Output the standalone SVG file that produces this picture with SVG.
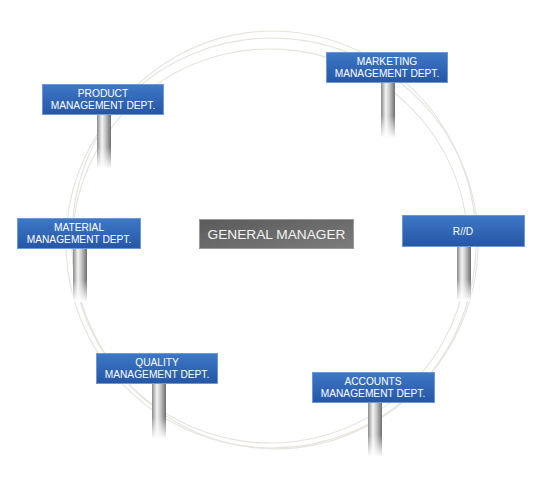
<svg xmlns="http://www.w3.org/2000/svg" width="540" height="500" viewBox="0 0 540 500">
<defs>
<linearGradient id="blue" x1="0" y1="0" x2="0" y2="1">
<stop offset="0" stop-color="#3d78c6"/>
<stop offset="1" stop-color="#2656a6"/>
</linearGradient>
<linearGradient id="gray" x1="0" y1="0" x2="1" y2="1">
<stop offset="0" stop-color="#5a5a5a"/>
<stop offset="1" stop-color="#7c7c7c"/>
</linearGradient>
<linearGradient id="pole" x1="0" y1="0" x2="1" y2="0">
<stop offset="0" stop-color="#8a8a8a"/>
<stop offset="0.35" stop-color="#f4f4f4"/>
<stop offset="0.6" stop-color="#c8c8c8"/>
<stop offset="1" stop-color="#6e6e6e"/>
</linearGradient>
<linearGradient id="fade" x1="0" y1="0" x2="0" y2="1">
<stop offset="0" stop-color="#fff" stop-opacity="0"/>
<stop offset="0.6" stop-color="#fff" stop-opacity="0"/>
<stop offset="1" stop-color="#fff" stop-opacity="1"/>
</linearGradient>
</defs>
<style>
.box{fill:url(#blue);stroke:#6d9ad6;stroke-width:1}
.gm{fill:url(#gray);stroke:#9a9a9a;stroke-width:1}
.pole{fill:url(#pole)}
.fade{fill:url(#fade)}
.t{font-family:"Liberation Sans",Arial,sans-serif;font-size:10.2px;fill:#fff;text-anchor:middle}
.tg{font-family:"Liberation Sans",Arial,sans-serif;font-size:13.7px;fill:#f4f4f4;text-anchor:middle}
.arc{fill:none;stroke:#e6e3dc;stroke-width:1.1}
</style>
<rect width="540" height="500" fill="#fff"/>
<g id="connectors">
<ellipse class="arc" cx="272" cy="243" rx="206" ry="205"/>
<ellipse class="arc" cx="270" cy="246" rx="198" ry="197" transform="rotate(8 270 246)"/>
<ellipse class="arc" cx="274" cy="240" rx="202" ry="209" transform="rotate(-6 274 240)"/>
</g>
<g id="general-manager">
<rect class="gm" x="199.5" y="219.5" width="154" height="29"/>
<text class="tg" x="276.5" y="239">GENERAL MANAGER</text>
</g>
<g id="product">
<rect class="pole" x="97" y="114" width="14" height="54"/>
<rect class="fade" x="96" y="114" width="16" height="55"/>
<rect class="box" x="42.5" y="84.5" width="121" height="30"/>
<text class="t" x="103" y="97">PRODUCT</text>
<text class="t" x="103" y="109">MANAGEMENT DEPT.</text>
</g>
<g id="marketing">
<rect class="pole" x="381" y="83" width="14" height="54"/>
<rect class="fade" x="380" y="83" width="16" height="55"/>
<rect class="box" x="326.5" y="52.5" width="121" height="30"/>
<text class="t" x="387" y="65">MARKETING</text>
<text class="t" x="387" y="77">MANAGEMENT DEPT.</text>
</g>
<g id="rd">
<rect class="pole" x="457" y="247" width="14" height="53"/>
<rect class="fade" x="456" y="247" width="16" height="54"/>
<rect class="box" x="402.5" y="215.5" width="122" height="31"/>
<text class="t" x="463" y="235">R//D</text>
</g>
<g id="material">
<rect class="pole" x="73" y="248" width="14" height="53"/>
<rect class="fade" x="72" y="248" width="16" height="54"/>
<rect class="box" x="17.5" y="218.5" width="123" height="30"/>
<text class="t" x="79" y="231">MATERIAL</text>
<text class="t" x="79" y="243">MANAGEMENT DEPT.</text>
</g>
<g id="quality">
<rect class="pole" x="152" y="384" width="14" height="54"/>
<rect class="fade" x="151" y="384" width="16" height="55"/>
<rect class="box" x="96.5" y="353.5" width="121" height="30"/>
<text class="t" x="157" y="366">QUALITY</text>
<text class="t" x="157" y="378">MANAGEMENT DEPT.</text>
</g>
<g id="accounts">
<rect class="pole" x="368" y="402" width="14" height="54"/>
<rect class="fade" x="367" y="402" width="16" height="55"/>
<rect class="box" x="312.5" y="372.5" width="122" height="30"/>
<text class="t" x="373" y="385">ACCOUNTS</text>
<text class="t" x="373" y="397">MANAGEMENT DEPT.</text>
</g>
</svg>
